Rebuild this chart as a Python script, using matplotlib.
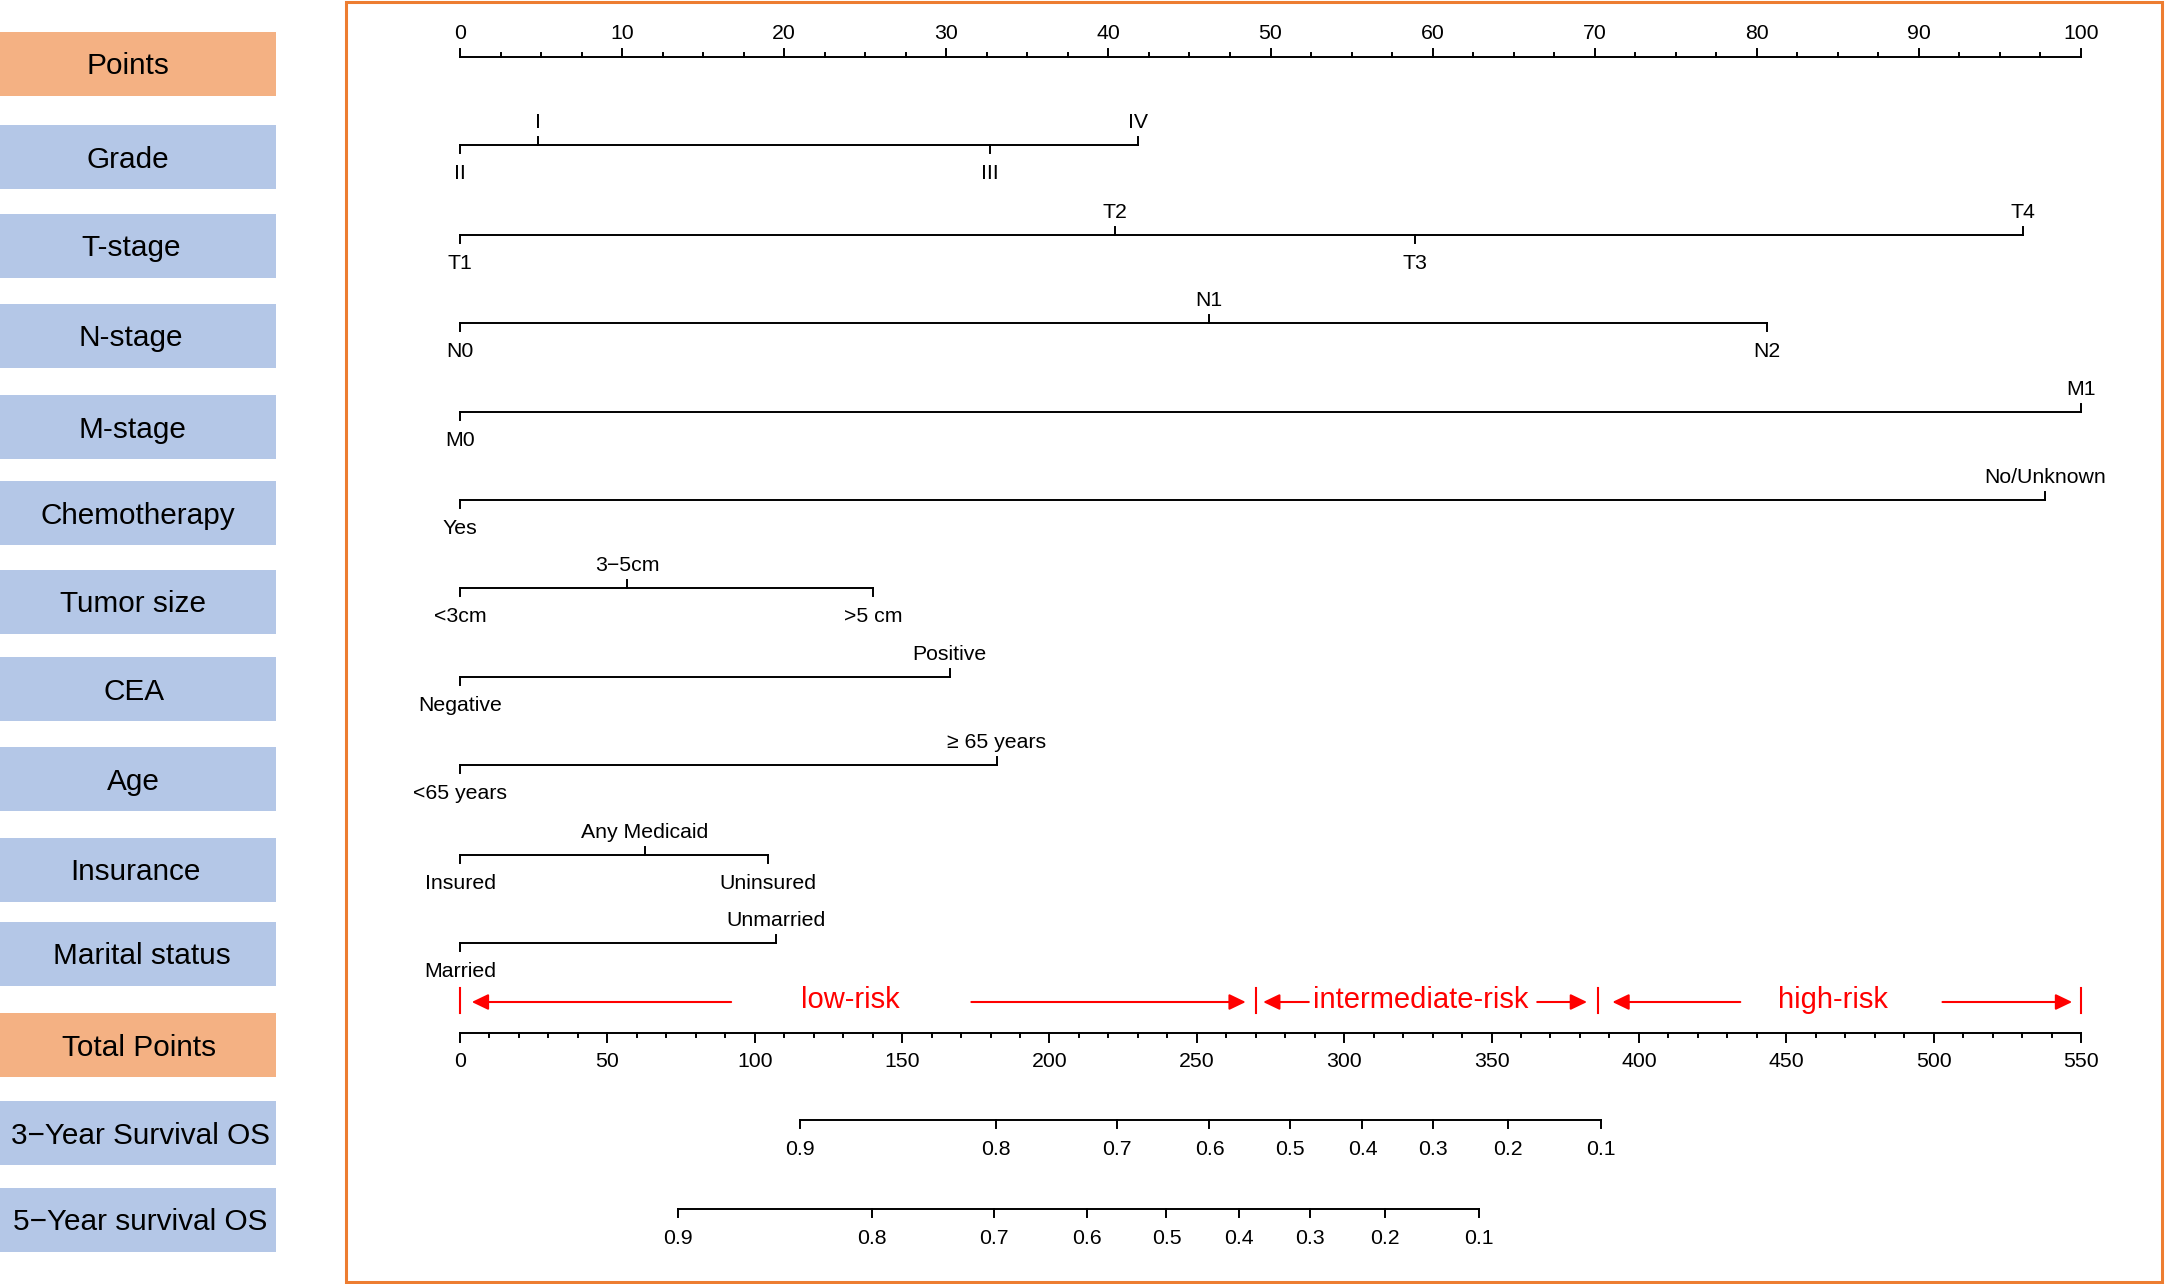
import matplotlib
matplotlib.use('Agg')
import matplotlib.pyplot as plt
from matplotlib.patches import Rectangle

plt.rcParams['font.family'] = ['Liberation Sans', 'DejaVu Sans']

# ---- data (points scale 0-100) ----
grade_levels = ['II', 'I', 'III', 'IV']
grade_pts = [0, 4.8, 32.7, 41.8]
t_levels = ['T1', 'T2', 'T3', 'T4']
t_pts = [0, 40.4, 58.9, 96.4]
n_levels = ['N0', 'N1', 'N2']
n_pts = [0, 46.2, 80.6]
m_levels = ['M0', 'M1']
m_pts = [0, 100]
chemo_levels = ['Yes', 'No/Unknown']
chemo_pts = [0, 97.8]
size_levels = ['<3cm', '3\u22125cm', '>5 cm']
size_pts = [0, 10.3, 25.5]
cea_levels = ['Negative', 'Positive']
cea_pts = [0, 30.2]
age_levels = ['<65 years', '\u2265 65 years']
age_pts = [0, 33.1]
ins_levels = ['Insured', 'Any Medicaid', 'Uninsured']
ins_pts = [0, 11.4, 19.0]
mar_levels = ['Married', 'Unmarried']
mar_pts = [0, 19.5]

# total points scale and survival axes (in total points)
total_max = 550
surv_ticks = ['0.9', '0.8', '0.7', '0.6', '0.5', '0.4', '0.3', '0.2', '0.1']
surv3_tp = [115.4, 181.7, 223.0, 254.3, 281.7, 306.2, 330.0, 355.6, 387.2]
surv5_tp = [73.9, 139.9, 181.3, 212.8, 239.7, 264.2, 288.3, 313.9, 345.7]

# risk groups (total points)
risk_cuts = [0, 270, 386, 550]
risk_names = ['low-risk', 'intermediate-risk', 'high-risk']
risk_text_tp = [132.5, 326, 466]
risk_arrows = [(92, 4), (173.5, 266.6), (288, 272.5), (365.5, 382.4),
               (434.4, 391), (503, 547)]

box_labels = ['Points', 'Grade', 'T-stage', 'N-stage', 'M-stage', 'Chemotherapy',
              'Tumor size', 'CEA', 'Age', 'Insurance', 'Marital status',
              'Total Points', '3\u2212Year Survival OS', '5\u2212Year survival OS']

# ---- layout (pixels) ----
W, H = 2165, 1284
X0, X100 = 460, 2081
PPX = (X100 - X0) / 100.0
box_top = [32, 125, 214, 304, 395, 481, 570, 657, 747, 838, 922, 1013, 1101, 1188]
box_text_x = [128, 128, 131, 131, 132, 138, 133, 134, 133, 135, 142, 139, 140, 140]
box_h = 64
box_w = 276
row_y = [145, 235, 323, 412, 500, 588, 677, 765, 855, 943]
points_y = 57
total_y = 1033
surv3_y, surv5_y = 1120, 1209
risk_y = 1002

orange_box = '#F4B183'
blue_box = '#B4C7E7'
frame_col = '#ED7D31'
lw = 1.4
fs = 15.3


def px(x):
    return (x - X0) / PPX


def tp(v):
    return v * 100.0 / total_max


fig = plt.figure(figsize=(W / 100, H / 100), dpi=100)
ax = fig.add_axes([0, 0, 1, 1])
ax.set_xlim(px(0), px(W))
ax.set_ylim(H, 0)
ax.axis('off')

# left label boxes
for i, lab in enumerate(box_labels):
    col = orange_box if lab in ('Points', 'Total Points') else blue_box
    ax.add_patch(Rectangle((px(0), box_top[i]), box_w / PPX, box_h,
                           facecolor=col, edgecolor='none'))
    ax.text(px(box_text_x[i]), box_top[i] + box_h / 2 + 10.5, lab, fontsize=21.4,
            ha='center', va='baseline')

# orange frame
ax.add_patch(Rectangle((px(346), 2), (2162 - 346) / PPX, 1280, fill=False,
                       edgecolor=frame_col, lw=2.2, clip_on=False))

# points axis
ax.plot([0, 100], [points_y, points_y], color='black', lw=lw)
for k in range(41):
    v = k * 2.5
    L = 8 if k % 4 == 0 else 4
    ax.plot([v, v], [points_y, points_y - L], color='black', lw=lw)
    if k % 4 == 0:
        ax.text(v, points_y - 18, str(int(v)), fontsize=fs, ha='center', va='baseline')

# predictor rows
rows = [(grade_levels, grade_pts), (t_levels, t_pts), (n_levels, n_pts),
        (m_levels, m_pts), (chemo_levels, chemo_pts), (size_levels, size_pts),
        (cea_levels, cea_pts), (age_levels, age_pts), (ins_levels, ins_pts),
        (mar_levels, mar_pts)]
for (levels, pts), y in zip(rows, row_y):
    ax.plot([min(pts), max(pts)], [y, y], color='black', lw=lw)
    order = sorted(range(len(pts)), key=lambda j: pts[j])
    for rank, j in enumerate(order):
        if rank % 2 == 0:
            ax.plot([pts[j], pts[j]], [y, y + 8], color='black', lw=lw)
            ax.text(pts[j], y + 34, levels[j], fontsize=fs, ha='center', va='baseline')
        else:
            ax.plot([pts[j], pts[j]], [y, y - 8], color='black', lw=lw)
            ax.text(pts[j], y - 17, levels[j], fontsize=fs, ha='center', va='baseline')

# risk groups
for c in risk_cuts:
    ax.plot([tp(c), tp(c)], [risk_y - 14, risk_y + 11], color='red', lw=1.5)
for name, xt in zip(risk_names, risk_text_tp):
    ax.text(tp(xt), risk_y + 6, name, fontsize=21, color='red', ha='center', va='baseline')
for tail, tip in risk_arrows:
    ax.annotate('', xy=(tp(tip), risk_y), xytext=(tp(tail), risk_y),
                arrowprops=dict(arrowstyle='-|>,head_length=0.5,head_width=0.24',
                                color='red', lw=1.5, mutation_scale=20,
                                shrinkA=0, shrinkB=0))

# total points axis
ax.plot([0, 100], [total_y, total_y], color='black', lw=lw)
for v in range(0, total_max + 1, 10):
    L = 9 if v % 50 == 0 else 4
    ax.plot([tp(v), tp(v)], [total_y, total_y + L], color='black', lw=lw)
    if v % 50 == 0:
        ax.text(tp(v), total_y + 34, str(v), fontsize=fs, ha='center', va='baseline')

# survival axes
for vals, y in [(surv3_tp, surv3_y), (surv5_tp, surv5_y)]:
    ax.plot([tp(vals[0]), tp(vals[-1])], [y, y], color='black', lw=lw)
    for lab, v in zip(surv_ticks, vals):
        ax.plot([tp(v), tp(v)], [y, y + 8], color='black', lw=lw)
        ax.text(tp(v), y + 35, lab, fontsize=fs, ha='center', va='baseline')

fig.savefig('out.png', dpi=100)
